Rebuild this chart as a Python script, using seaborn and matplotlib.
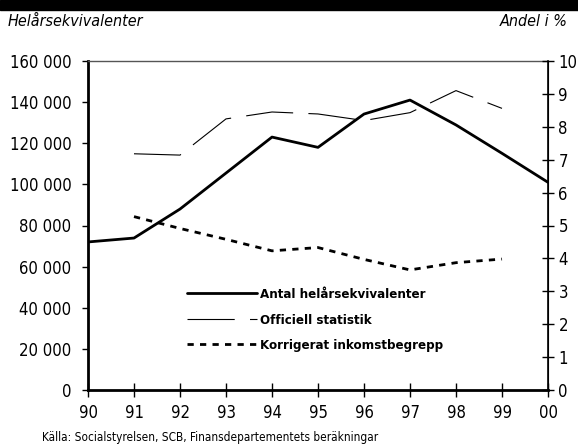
import matplotlib
matplotlib.use("Agg")
import matplotlib.pyplot as plt
import matplotlib.ticker as mticker
import seaborn as sns

# data
years = [90, 91, 92, 93, 94, 95, 96, 97, 98, 99, 100]
year_labels = ["90", "91", "92", "93", "94", "95", "96", "97", "98", "99", "00"]
antal = [72000, 73900, 88000, 105500, 123000, 118000, 134200, 141000, 128900, 115100, 101000]
off_years = [91, 92, 93, 94, 95, 96, 97, 98, 99]
officiell = [7.18, 7.14, 8.24, 8.45, 8.39, 8.19, 8.43, 9.10, 8.56]
korrigerat = [5.27, 4.91, 4.58, 4.23, 4.33, 3.97, 3.65, 3.87, 3.98]

sns.set_style("ticks")
plt.rcParams['font.family'] = ['DejaVu Sans']
plt.rcParams['font.stretch'] = 'condensed'
plt.rcParams['text.color'] = 'black'
plt.rcParams['lines.scale_dashes'] = False

fig = plt.figure(figsize=(5.78, 4.46), dpi=100)
ax = fig.add_axes([88 / 578, 56 / 446, 460 / 578, 329 / 446])
ax2 = ax.twinx()

sns.lineplot(x=years, y=antal, ax=ax, color="black", lw=2.0,
             label="Antal helårsekvivalenter", legend=False)
sns.lineplot(x=off_years, y=officiell, ax=ax2, color="black", lw=0.8,
             linestyle=(0, (34, 11)), label="Officiell statistik", legend=False)
sns.lineplot(x=off_years, y=korrigerat, ax=ax2, color="black", lw=2.0,
             linestyle=(0, (4.5, 4.5)), label="Korrigerat inkomstbegrepp", legend=False)

ax.set_xlim(90, 100)
ax.set_ylim(0, 160000)
ax2.set_ylim(0, 10)
ax.set_xticks(years)
ax.set_xticklabels(year_labels)
ax.set_yticks(range(0, 160001, 20000))
ax.yaxis.set_major_formatter(mticker.FuncFormatter(lambda v, p: f"{int(v):,}".replace(",", " ")))
ax2.set_yticks(range(0, 11))
ax.set_xlabel("")
ax.set_ylabel("")
ax2.set_ylabel("")

for a in (ax, ax2):
    for s in a.spines.values():
        s.set_visible(True)
        s.set_color("black")
ax.spines["left"].set_linewidth(2)
ax.spines["bottom"].set_linewidth(2)
ax.spines["top"].set_linewidth(1)
ax.spines["top"].set_color("#555555")
ax2.spines["right"].set_linewidth(1.2)
ax2.spines["left"].set_visible(False)
ax2.spines["bottom"].set_visible(False)
ax2.spines["top"].set_visible(False)

ax.tick_params(axis="y", direction="out", length=4, width=1, labelsize=12, pad=8, colors="black")
ax.tick_params(axis="x", direction="inout", length=10, width=1, labelsize=12, pad=5, colors="black")
ax2.tick_params(axis="y", direction="inout", length=9, width=1, labelsize=12, pad=3, colors="black")

h1, l1 = ax.get_legend_handles_labels()
h2, l2 = ax2.get_legend_handles_labels()
leg = ax2.legend(h1 + h2, l1 + l2, loc="upper left", bbox_to_anchor=(0.2, 0.33),
                 frameon=False, handlelength=5.3, handletextpad=0.25,
                 labelspacing=0.95, borderpad=0,
                 prop={"weight": "bold", "size": 9.5, "stretch": "condensed"})

# header band and axis titles
fig.patches.append(plt.Rectangle((0, 1 - 10 / 446), 1, 10 / 446, transform=fig.transFigure,
                                 color="black", zorder=0))
fig.text(8 / 578, 1 - 22 / 446, "Helårsekvivalenter", fontsize=11.5, style="italic",
         ha="left", va="center")
fig.text(568 / 578, 1 - 22 / 446, "Andel i %", fontsize=11.5, style="italic",
         ha="right", va="center")
fig.text(42 / 578, 1 - 437 / 446, "Källa: Socialstyrelsen, SCB, Finansdepartementets beräkningar",
         fontsize=8.5, ha="left", va="center")

fig.savefig("out.png", dpi=100)
